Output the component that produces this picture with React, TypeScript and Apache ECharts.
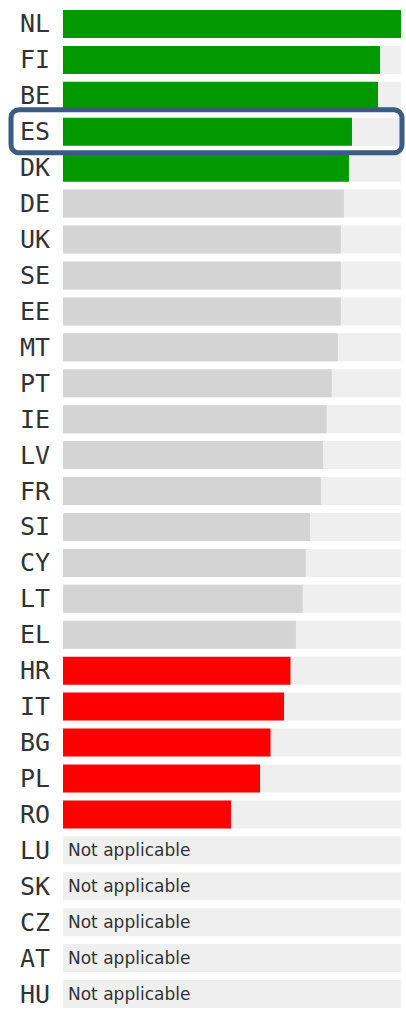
import React, { useEffect, useRef } from "react";
import * as echarts from "echarts";

const countries = [
  "NL", "FI", "BE", "ES", "DK", "DE", "UK", "SE", "EE", "MT", "PT", "IE", "LV", "FR",
  "SI", "CY", "LT", "EL", "HR", "IT", "BG", "PL", "RO", "LU", "SK", "CZ", "AT", "HU",
];
const scores: (number | null)[] = [
  100, 93.8, 93.2, 85.5, 84.6, 83.1, 82.2, 82.2, 82.2, 81.3, 79.5, 78.0, 76.9, 76.3,
  73.1, 71.8, 70.9, 68.9, 67.3, 65.4, 61.4, 58.3, 49.7, null, null, null, null, null,
];
const status = [
  "high", "high", "high", "high", "high", "mid", "mid", "mid", "mid", "mid", "mid", "mid", "mid", "mid",
  "mid", "mid", "mid", "mid", "low", "low", "low", "low", "low", "na", "na", "na", "na", "na",
];
const highlighted = "ES";
const naText = "Not applicable";
const scaleMax = 100;

const colors: Record<string, string> = {
  high: "#009a00",
  mid: "#d4d4d4",
  low: "#ff0000",
  na: "#efefef",
};

export default function App() {
  const ref = useRef<HTMLDivElement>(null);
  useEffect(() => {
    if (!ref.current) return;
    const chart = echarts.init(ref.current, null, { renderer: "svg" });
    chart.setOption({
      animation: false,
      grid: { left: 63, right: 5, top: 6, height: 1010, containLabel: false },
      xAxis: { type: "value", min: 0, max: scaleMax, show: false },
      yAxis: {
        type: "category",
        inverse: true,
        data: countries,
        axisLine: { show: false },
        axisTick: { show: false },
        splitLine: { show: false },
        axisLabel: {
          align: "left",
          margin: 43,
          fontSize: 25,
          color: "#333",
          fontFamily: "'DejaVu Sans Mono', monospace",
          padding: [4, 0, 0, 0],
        },
      },
      series: [
        {
          type: "bar",
          silent: true,
          barWidth: 28,
          itemStyle: { color: "#efefef" },
          data: countries.map((c, i) =>
            status[i] === "na"
              ? {
                  value: scaleMax,
                  label: {
                    show: true,
                    position: "insideLeft",
                    distance: 5,
                    formatter: naText,
                    fontSize: 17,
                    color: "#333",
                    fontFamily: "'DejaVu Sans', sans-serif",
                  },
                }
              : scaleMax
          ),
        },
        {
          type: "bar",
          barWidth: 28,
          barGap: "-100%",
          data: scores.map((v, i) => ({
            value: v,
            itemStyle: { color: colors[status[i]] },
          })),
        },
      ],
    });
    const cy = chart.convertToPixel({ yAxisIndex: 0 }, highlighted) as number;
    const x0 = chart.convertToPixel({ xAxisIndex: 0 }, 0) as number;
    const x1 = chart.convertToPixel({ xAxisIndex: 0 }, scaleMax) as number;
    chart.setOption({
      graphic: [
        {
          type: "rect",
          shape: { x: x0 - 52, y: cy - 22, width: x1 - x0 + 53, height: 43, r: 8 },
          style: { fill: "none", stroke: "#3b5b83", lineWidth: 5 },
          z: 100,
        },
      ],
    });
    return () => chart.dispose();
  }, []);
  return (
    <div
      ref={ref}
      style={{ position: "absolute", left: 0, top: 0, width: 406, height: 1012 }}
    />
  );
}
